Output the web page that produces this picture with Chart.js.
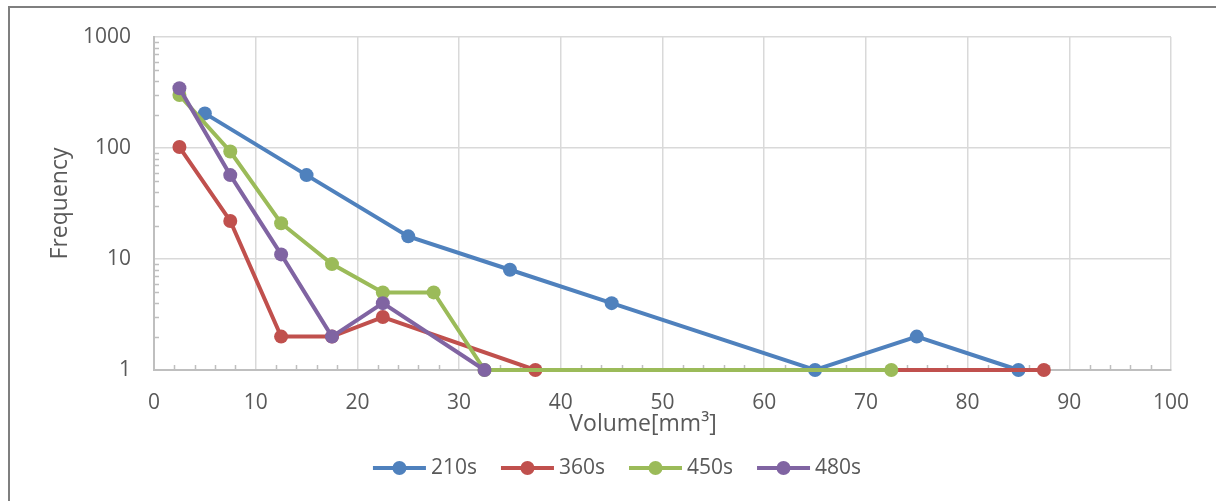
<!DOCTYPE html>
<html>
<head>
<meta charset="utf-8">
<script src="https://cdn.jsdelivr.net/npm/chart.js"></script>
<style>
  html, body { margin: 0; padding: 0; background: #fff; overflow: hidden; }
  #frame { position: absolute; left: 8px; top: 6px; width: 1300px; height: 600px; border: 2px solid #7f7f7f; }
  #wrap { position: absolute; left: 0; top: 0; width: 1216px; height: 501px; }
</style>
</head>
<body>
<div id="frame"></div>
<div id="wrap"><canvas id="myChart"></canvas></div>
<script>
// data
var seriesNames = ["210s", "360s", "450s", "480s"];
var colors = ["#4f81bd", "#c0504d", "#9bbb59", "#8064a2"];

var vol210 = [5, 15, 25, 35, 45, 65, 75, 85];
var freq210 = [205, 57, 16, 8, 4, 1, 2, 1];
var vol360 = [2.5, 7.5, 12.5, 17.5, 22.5, 37.5, 87.5];
var freq360 = [102, 22, 2, 2, 3, 1, 1];
var vol450 = [2.5, 7.5, 12.5, 17.5, 22.5, 27.5, 32.5, 72.5];
var freq450 = [300, 93, 21, 9, 5, 5, 1, 1];
var vol480 = [2.5, 7.5, 12.5, 17.5, 22.5, 32.5];
var freq480 = [345, 57, 11, 2, 4, 1];

var xTicks = [0, 10, 20, 30, 40, 50, 60, 70, 80, 90, 100];
var yTicks = [1, 10, 100, 1000];
var xTitle = "Volume[mm\u00b3]";
var yTitle = "Frequency";

var FONT = "'Open Sans', sans-serif";
var TEXT = "#595959";

function pts(xs, ys) {
  return xs.map(function (x, i) { return { x: x, y: ys[i] }; });
}

var allX = [vol210, vol360, vol450, vol480];
var allY = [freq210, freq360, freq450, freq480];

var datasets = seriesNames.map(function (name, i) {
  return {
    label: name,
    data: pts(allX[i], allY[i]),
    borderColor: colors[i],
    backgroundColor: colors[i],
    borderWidth: 4,
    pointRadius: 7,
    pointBorderWidth: 0,
    pointHoverRadius: 7,
    tension: 0,
    clip: false,
    order: seriesNames.length - i
  };
});

// inner tick marks + titles + legend, all drawn on the chart
var extras = {
  id: "extras",
  beforeDatasetsDraw: function (chart) {
    var ctx = chart.ctx;
    var xs = chart.scales.x, ys = chart.scales.y;
    var area = chart.chartArea;
    ctx.save();
    ctx.strokeStyle = "#bfbfbf";
    ctx.lineWidth = 1.5;
    // minor x ticks every 2
    for (var v = 2; v < 100; v += 2) {
      if (v % 10 === 0) continue;
      var px = Math.round(xs.getPixelForValue(v)) + 0.5;
      ctx.beginPath();
      ctx.moveTo(px, area.bottom);
      ctx.lineTo(px, area.bottom - 5);
      ctx.stroke();
    }
    // minor y ticks (log)
    for (var d = 1; d < 1000; d *= 10) {
      for (var k = 2; k <= 9; k++) {
        var py = Math.round(ys.getPixelForValue(d * k)) + 0.5;
        ctx.beginPath();
        ctx.moveTo(area.left, py);
        ctx.lineTo(area.left + 5, py);
        ctx.stroke();
      }
    }
    ctx.restore();
  },
  afterDraw: function (chart) {
    var ctx = chart.ctx;
    var area = chart.chartArea;
    ctx.save();
    // axis titles
    ctx.fillStyle = TEXT;
    ctx.font = "23px " + FONT;
    ctx.textAlign = "center";
    ctx.textBaseline = "middle";
    ctx.fillText(xTitle, 643, 424);
    ctx.save();
    ctx.translate(60, (area.top + area.bottom) / 2);
    ctx.rotate(-Math.PI / 2);
    ctx.fillText(yTitle, 0, 0);
    ctx.restore();
    // legend
    ctx.font = "21px " + FONT;
    ctx.textAlign = "left";
    var lineLen = 53, gap = 5, spacing = 24;
    var widths = seriesNames.map(function (n) { return ctx.measureText(n).width; });
    var total = 0;
    widths.forEach(function (w) { total += lineLen + gap + w + spacing; });
    total -= spacing;
    var x = 617 - total / 2, y = 468;
    seriesNames.forEach(function (n, i) {
      ctx.strokeStyle = colors[i];
      ctx.lineWidth = 4;
      ctx.beginPath();
      ctx.moveTo(x, y);
      ctx.lineTo(x + lineLen, y);
      ctx.stroke();
      ctx.fillStyle = colors[i];
      ctx.beginPath();
      ctx.arc(x + lineLen / 2, y, 7, 0, Math.PI * 2);
      ctx.fill();
      ctx.fillStyle = TEXT;
      ctx.fillText(n, x + lineLen + gap, y);
      x += lineLen + gap + widths[i] + spacing;
    });
    ctx.restore();
  }
};

var ctx = document.getElementById("myChart").getContext("2d");
var myChart = new Chart(ctx, {
  type: "line",
  data: { datasets: datasets },
  options: {
    responsive: true,
    maintainAspectRatio: false,
    animation: false,
    layout: { padding: { top: 37, right: 45, bottom: 0, left: 0 } },
    plugins: {
      legend: { display: false },
      tooltip: { enabled: false }
    },
    scales: {
      x: {
        type: "linear",
        min: 0,
        max: 100,
        afterBuildTicks: function (s) { s.ticks = xTicks.map(function (v) { return { value: v }; }); },
        afterFit: function (s) { s.height = 131; },
        ticks: { color: TEXT, font: { family: FONT, size: 21 }, padding: 20, maxRotation: 0 },
        grid: { color: "#d9d9d9", lineWidth: 1.5, drawTicks: false },
        border: { color: "#bfbfbf", width: 2 }
      },
      y: {
        type: "logarithmic",
        min: 1,
        max: 1000,
        afterBuildTicks: function (s) { s.ticks = yTicks.map(function (v) { return { value: v }; }); },
        afterFit: function (s) { s.width = 154; },
        ticks: {
          color: TEXT, font: { family: FONT, size: 21 }, padding: 23,
          callback: function (v) { return String(v); }
        },
        grid: { color: "#d9d9d9", lineWidth: 1.5, drawTicks: false },
        border: { color: "#bfbfbf", width: 2 }
      }
    }
  },
  plugins: [extras]
});
</script>
</body>
</html>
